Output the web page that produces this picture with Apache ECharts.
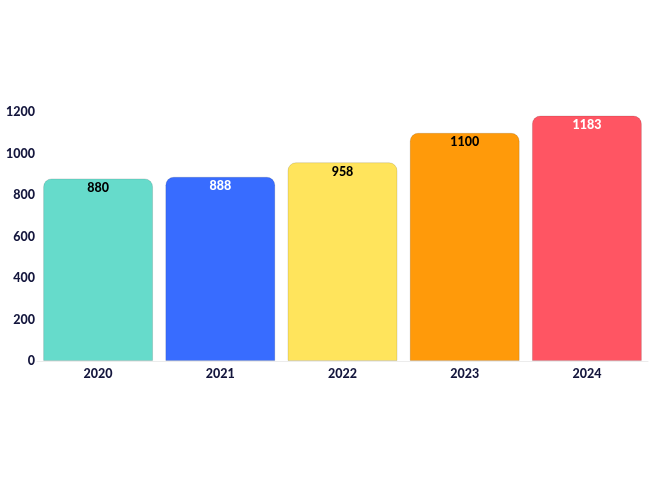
<!DOCTYPE html>
<html><head><meta charset="utf-8">
<script src="https://cdn.jsdelivr.net/npm/echarts@6/dist/echarts.min.js"></script>
<style>html,body{margin:0;padding:0;background:#fff}#c{width:650px;height:480px}</style>
</head><body><div id="c"></div>
<script>
const categories = ['2020','2021','2022','2023','2024'];
const values = [880, 888, 958, 1100, 1183];
const barColors = ['#66DBCB','#386CFF','#FFE45C','#FF9A0A','#FF5563'];
const labelColors = ['#000000','#ffffff','#000000','#000000','#ffffff'];
const yTicks = [0,200,400,600,800,1000,1200];

const chart = echarts.init(document.getElementById('c'));
chart.setOption({
  animation:false,
  grid:{left:37, right:2, top:112, bottom:119, containLabel:false},
  xAxis:{type:'category', data:categories,
    axisLine:{show:true, lineStyle:{color:'#ececec'}}, axisTick:{show:false},
    axisLabel:{color:'#14163d', fontFamily:'Lato', fontWeight:900, fontSize:12.5, margin:6}},
  yAxis:{type:'value', min:0, max:1200, interval:200,
    splitLine:{show:false}, axisLine:{show:false}, axisTick:{show:false},
    axisLabel:{color:'#14163d', fontFamily:'Lato', fontWeight:900, fontSize:12.5, margin:2,
      formatter:v=>yTicks.includes(v)?String(v):''}},
  series:[{type:'bar', barWidth:'90%',
    data: values.map((v,i)=>({value:v,
      itemStyle:{color:barColors[i], borderColor:'rgba(0,0,0,0.12)', borderWidth:1, borderRadius:[8,8,0,0]},
      label:{color:labelColors[i]}})),
    label:{show:true, position:'insideTop', distance:3, fontFamily:'Lato', fontWeight:900, fontSize:12.5}
  }]
});
</script></body></html>
